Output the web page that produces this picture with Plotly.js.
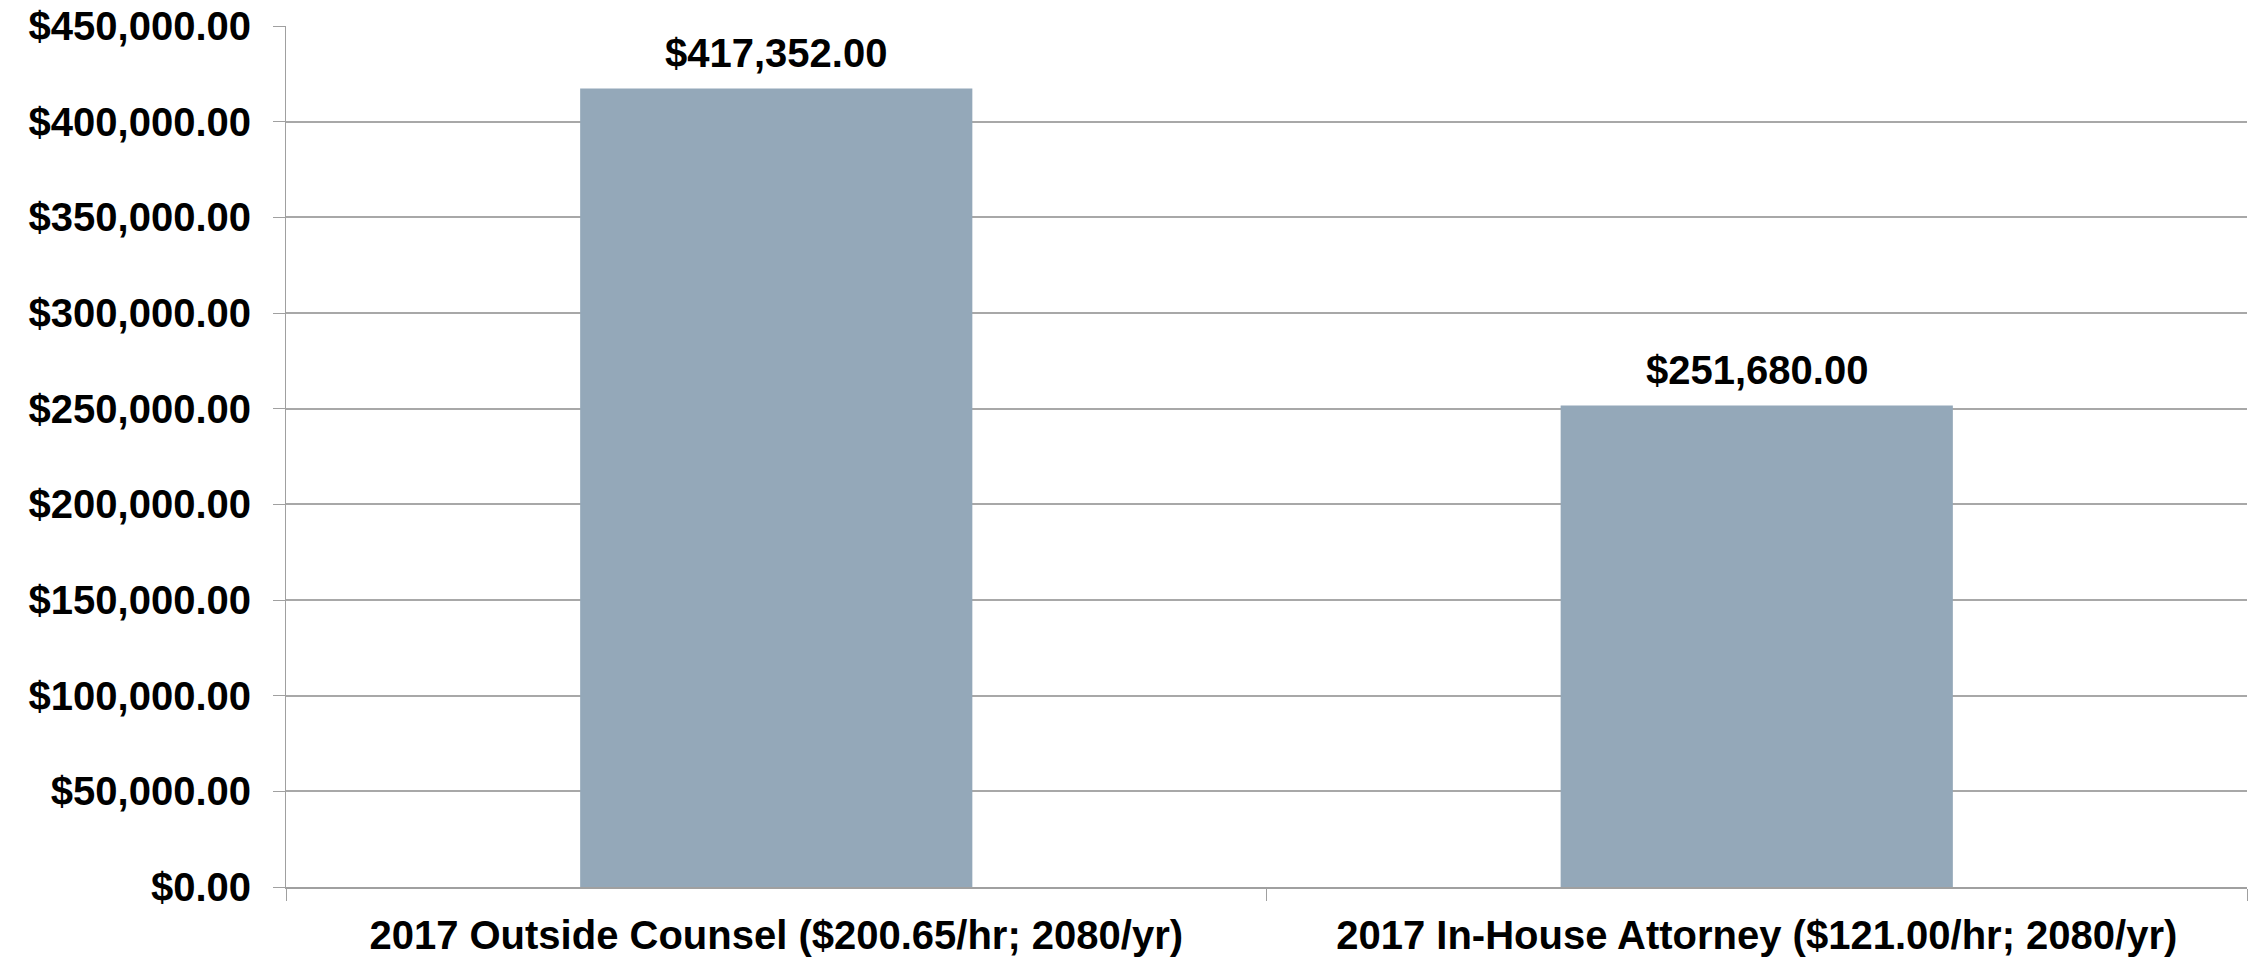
<!DOCTYPE html>
<html>
<head>
<meta charset="utf-8">
<script src="https://cdn.plot.ly/plotly-3.0.1.min.js"></script>
<style>html,body{margin:0;padding:0;background:#fff;}#chart{width:2257px;height:962px;}</style>
</head>
<body>
<div id="chart"></div>
<script>
const categories = [
  "2017 Outside Counsel ($200.65/hr; 2080/yr)",
  "2017 In-House Attorney ($121.00/hr; 2080/yr)"
];
const costs = [417352, 251680];
const costLabels = ["$417,352.00", "$251,680.00"];

const FONT = "Liberation Sans, Arial, sans-serif";
const FS = 40;

const trace = {
  type: "bar",
  x: categories,
  y: costs,
  marker: {color: "#94A8B9"},
  hoverinfo: "x+y"
};

const annotations = categories.map((c, i) => ({
  x: c, y: costs[i], xref: "x", yref: "y",
  text: "<b>" + costLabels[i] + "</b>",
  showarrow: false, yanchor: "bottom", yshift: 11,
  font: {family: FONT, size: FS, color: "#000"}
}));

const layout = {
  width: 2257, height: 962,
  margin: {l: 286, r: 10, t: 26, b: 75},
  paper_bgcolor: "#fff", plot_bgcolor: "#fff",
  bargap: 0.6,
  showlegend: false,
  font: {family: FONT, color: "#000"},
  xaxis: {
    type: "category",
    showline: true, linecolor: "#a0a0a0", linewidth: 2,
    showgrid: false,
    ticks: "outside", tickson: "boundaries", ticklen: 12, tickcolor: "#a0a0a0", tickwidth: 1,
    ticklabelstandoff: 12,
    tickfont: {family: FONT, size: FS, color: "#000", weight: "bold"}
  },
  yaxis: {
    range: [0, 450000], dtick: 50000, tick0: 0,
    tickprefix: "$", tickformat: ",.2f",
    showline: true, linecolor: "#a0a0a0", linewidth: 1,
    showgrid: true, gridcolor: "#a8a8a8", gridwidth: 2,
    zeroline: false,
    ticks: "outside", ticklen: 12, tickcolor: "#a0a0a0", tickwidth: 1,
    ticklabelstandoff: 14,
    tickfont: {family: FONT, size: FS, color: "#000", weight: "bold"}
  },
  annotations: annotations
};

Plotly.newPlot("chart", [trace], layout, {displayModeBar: false, staticPlot: true});
</script>
</body>
</html>
